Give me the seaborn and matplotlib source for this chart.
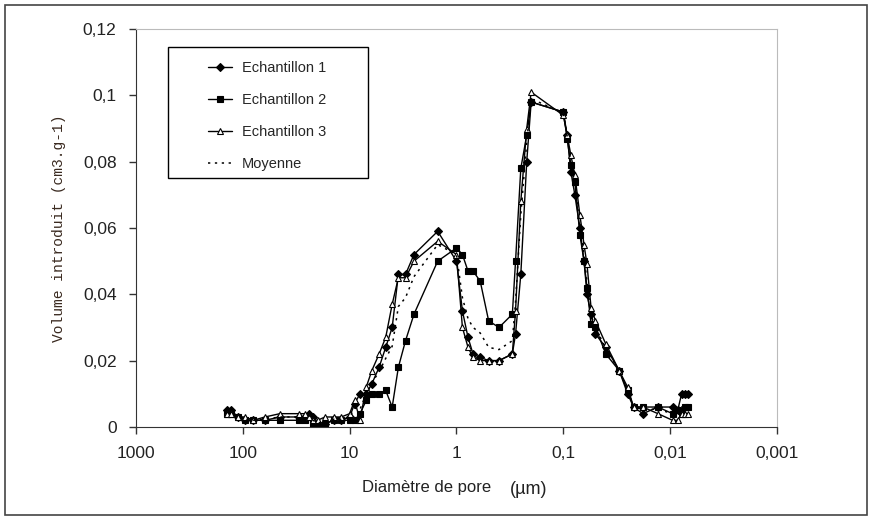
import numpy as np
import pandas as pd
import matplotlib
matplotlib.use('Agg')
import matplotlib.pyplot as plt
import seaborn as sns
from matplotlib.ticker import FixedLocator, FuncFormatter, NullLocator

# Diametre de pore (um), shared pressure steps
diametre = [140, 130, 110, 95, 80, 62, 45, 30, 26, 24, 22, 20, 17, 14, 12, 10, 9, 8, 7,
            6.2, 5.3, 4.6, 4, 3.5, 3, 2.5, 1.5, 1, 0.88, 0.78, 0.7, 0.6, 0.5, 0.4, 0.3,
            0.28, 0.25, 0.22, 0.2, 0.1, 0.092, 0.085, 0.078, 0.07, 0.064, 0.06, 0.055,
            0.05, 0.04, 0.03, 0.025, 0.022, 0.018, 0.013, 0.0095, 0.0085, 0.0078, 0.0072,
            0.0068]

echantillon_1 = [0.005, 0.005, 0.003, 0.002, 0.002, 0.002, 0.003, 0.003, 0.003, 0.004, 0.003,
                 0.001, 0.001, 0.002, 0.002, 0.003, 0.007, 0.010, 0.010, 0.013, 0.018, 0.024,
                 0.030, 0.046, 0.046, 0.052, 0.059, 0.050, 0.035, 0.027, 0.022, 0.021, 0.020,
                 0.020, 0.022, 0.028, 0.046, 0.080, 0.098, 0.095, 0.088, 0.077, 0.070, 0.060,
                 0.050, 0.040, 0.034, 0.028, 0.024, 0.017, 0.010, 0.006, 0.004, 0.006, 0.006,
                 0.005, 0.010, 0.010, 0.010]

echantillon_2 = [0.004, 0.004, 0.003, 0.002, 0.002, 0.002, 0.002, 0.002, 0.002, 0.003, 0.001,
                 0.0005, 0.001, 0.002, 0.002, 0.002, 0.002, 0.004, 0.008, 0.010, 0.010, 0.011,
                 0.006, 0.018, 0.026, 0.034, 0.050, 0.054, 0.052, 0.047, 0.047, 0.044, 0.032,
                 0.030, 0.034, 0.050, 0.078, 0.088, 0.098, 0.095, 0.087, 0.079, 0.074, 0.058,
                 0.050, 0.042, 0.031, 0.030, 0.022, 0.017, 0.011, 0.006, 0.006, 0.006, 0.004,
                 0.005, 0.004, 0.006, 0.006]

echantillon_3 = [0.004, 0.004, 0.003, 0.003, 0.002, 0.003, 0.004, 0.004, 0.004, 0.003, 0.002,
                 0.002, 0.003, 0.003, 0.003, 0.004, 0.008, 0.002, 0.012, 0.017, 0.022, 0.027,
                 0.037, 0.045, 0.045, 0.050, 0.056, 0.052, 0.030, 0.024, 0.021, 0.020, 0.020,
                 0.020, 0.022, 0.035, 0.068, 0.090, 0.101, 0.094, 0.088, 0.082, 0.076, 0.064,
                 0.055, 0.049, 0.036, 0.032, 0.025, 0.017, 0.012, 0.006, 0.006, 0.004, 0.002,
                 0.002, 0.004, 0.004, 0.004]

x_ticks = [1000, 100, 10, 1, 0.1, 0.01, 0.001]
y_ticks = [0, 0.02, 0.04, 0.06, 0.08, 0.1, 0.12]

# Long format table
df = pd.DataFrame({'diametre': diametre * 3,
                   'volume': echantillon_1 + echantillon_2 + echantillon_3,
                   'serie': ['Echantillon 1'] * len(diametre) + ['Echantillon 2'] * len(diametre)
                            + ['Echantillon 3'] * len(diametre)})
moyenne = df.groupby('diametre', sort=False)['volume'].mean().reset_index()

sns.set_style('white')
plt.rcParams['font.family'] = ['Liberation Sans', 'DejaVu Sans']

fig = plt.figure(figsize=(8.72, 5.2), dpi=100)
ax = fig.add_axes([0.156, 0.179, 0.735, 0.765])

styles = {'Echantillon 1': dict(marker='D', markersize=4, mfc='black'),
          'Echantillon 2': dict(marker='s', markersize=5, mfc='black'),
          'Echantillon 3': dict(marker='^', markersize=5, mfc='white')}
for name, st in styles.items():
    sub = df[df['serie'] == name]
    sns.lineplot(data=sub, x='diametre', y='volume', ax=ax, color='black', lw=1,
                 marker=st['marker'], markersize=st['markersize'],
                 markerfacecolor=st['mfc'], markeredgecolor='black', markeredgewidth=0.8,
                 label=name, estimator=None, sort=False)
sns.lineplot(data=moyenne, x='diametre', y='volume', ax=ax, color='black', lw=1.1,
             linestyle=(0, (1.5, 3)), label='Moyenne', estimator=None, sort=False)

ax.set_xscale('log')
ax.set_xlim(1000, 0.001)
ax.set_ylim(0, 0.12)
ax.xaxis.set_major_locator(FixedLocator(x_ticks))
ax.xaxis.set_minor_locator(NullLocator())
ax.xaxis.set_major_formatter(FuncFormatter(lambda v, p: f'{v:g}'.replace('.', ',')))
ax.yaxis.set_major_locator(FixedLocator(y_ticks))
ax.yaxis.set_major_formatter(FuncFormatter(lambda v, p: f'{v:g}'.replace('.', ',')))
ax.tick_params(axis='both', which='major', direction='out', length=5, width=1,
               color='#333333', labelsize=12.5, labelcolor='#222222', bottom=True, left=True)
ax.tick_params(axis='x', pad=9)
ax.tick_params(axis='y', pad=9)

for side in ['top', 'right']:
    ax.spines[side].set_color('#bbbbbb')
for side in ['left', 'bottom']:
    ax.spines[side].set_color('#333333')

ax.set_xlabel('')
ax.set_ylabel('Volume introduit (cm3.g-1)', family='Liberation Mono', fontsize=10.5,
              color='#3a2a20', labelpad=12)
fig.text(0.415, 0.053, 'Diamètre de pore', fontsize=12, color='#222222', ha='left')
fig.text(0.585, 0.050, '(µm)', fontsize=13, color='#222222', ha='left')

# legend box drawn separately so the entries can sit indented like the original
ax.add_patch(plt.Rectangle((0.05, 0.626), 0.312, 0.329, transform=ax.transAxes,
                           fill=False, edgecolor='black', lw=1.0, zorder=5))
leg = ax.legend(loc='upper left', bbox_to_anchor=(0.108, 0.928), frameon=False,
                fontsize=10.5, handlelength=1.6, labelspacing=1.25,
                borderpad=0.2, handletextpad=0.7, borderaxespad=0)

# outer figure frame
fig.patches.append(plt.Rectangle((0.006, 0.01), 0.988, 0.98, transform=fig.transFigure,
                                 fill=False, edgecolor='#444444', lw=1.2))

fig.savefig('out.png', dpi=100)
